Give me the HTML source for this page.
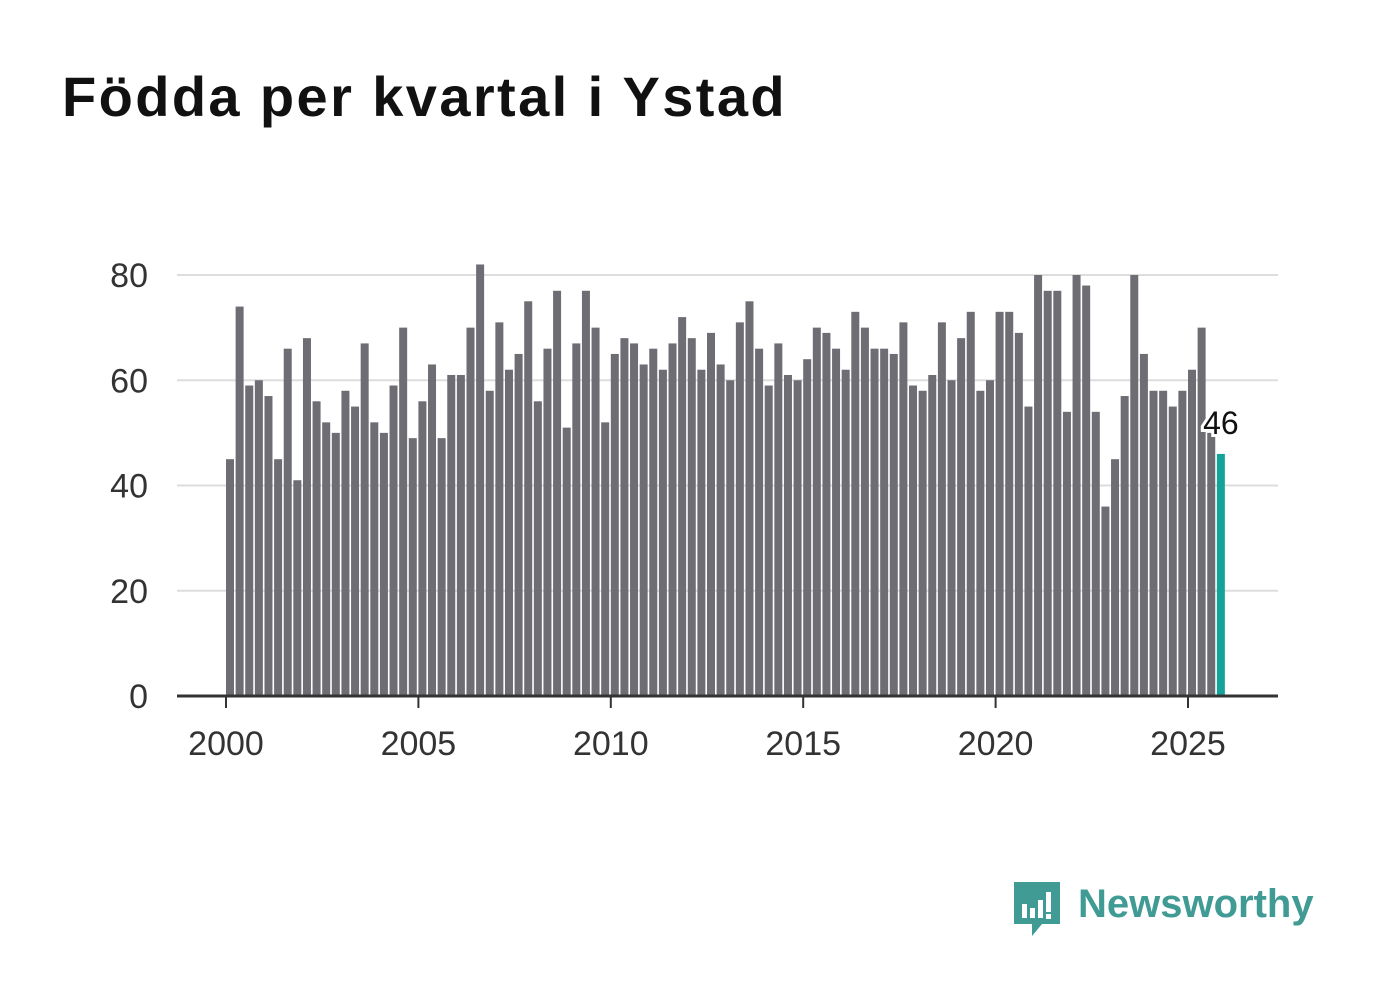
<!DOCTYPE html>
<html><head><meta charset="utf-8"><style>
body{margin:0;background:#fff;width:1382px;height:999px;overflow:hidden;font-family:"Liberation Sans",sans-serif}
h1{position:absolute;left:62px;top:64px;margin:0;font-size:56px;font-weight:bold;color:#111;letter-spacing:2.4px}
</style></head><body>
<h1>Födda per kvartal i Ystad</h1>
<svg id="chart" width="1382" height="999" style="position:absolute;left:0;top:0"></svg>
<div style="position:absolute;left:1012px;top:880px;">
<svg width="50" height="60"><path d="M2 2h46v42H30l-10 12v-12H2z" fill="#3f9b94"/><rect x="10" y="24" width="5" height="14" fill="#fff"/><rect x="18" y="28" width="5" height="10" fill="#fff"/><rect x="26" y="20" width="5" height="18" fill="#fff"/><rect x="34" y="12" width="5" height="20" fill="#fff"/><rect x="34" y="34" width="5" height="5" fill="#fff"/></svg>
<span style="position:absolute;left:66px;top:2px;font-size:40px;font-weight:bold;color:#3f9b94;white-space:nowrap">Newsworthy</span></div>
<script>
const years=[2000,2005,2010,2015,2020,2025];
const yTicks=[0,20,40,60,80];
const values=[45,74,59,60,57,45,66,41,68,56,52,50,58,55,67,52,50,59,70,49,56,63,49,61,61,70,82,58,71,62,65,75,56,66,77,51,67,77,70,52,65,68,67,63,66,62,67,72,68,62,69,63,60,71,75,66,59,67,61,60,64,70,69,66,62,73,70,66,66,65,71,59,58,61,71,60,68,73,58,60,73,73,69,55,80,77,77,54,80,78,54,36,45,57,80,65,58,58,55,58,62,70,50,46];
const startYear=2000;
const svg=document.getElementById('chart');const NS='http://www.w3.org/2000/svg';
function x(t){return 226+(t-startYear)*38.48;}
function y(v){return 696-v*5.2625;}
function mk(tag,a){const e=document.createElementNS(NS,tag);for(const k in a)e.setAttribute(k,a[k]);svg.appendChild(e);return e;}
yTicks.forEach(v=>{
 if(v>0){const g=mk('line',{x1:177,x2:1278,y1:y(v),y2:y(v),stroke:'#ddd','stroke-width':2});
 
 }
 const t=mk('text',{x:148,y:y(v)+12,'text-anchor':'end','font-size':34,fill:'#333','font-family':'Liberation Sans, sans-serif'});t.textContent=v;
 
 
});
values.forEach((v,i)=>{
 const last=i===values.length-1;
 const r=mk('rect',{x:x(startYear+i/4),y:y(v),width:8,height:y(0)-y(v),fill:last?'#14a39a':'#6e6d73'});
 
 
});
const ax=mk('line',{x1:177,x2:1278,y1:696,y2:696,stroke:'#333','stroke-width':3});


years.forEach(yr=>{
 const tk=mk('line',{x1:x(yr),x2:x(yr),y1:696,y2:708,stroke:'#333','stroke-width':2});
 
 
 const t=mk('text',{x:x(yr),y:755,'text-anchor':'middle','font-size':34,fill:'#333','font-family':'Liberation Sans, sans-serif'});t.textContent=yr;
 
 
});
const lv=values[values.length-1];
const lb=mk('text',{x:x(startYear+(values.length-1)/4)+4,y:y(lv)-20,'text-anchor':'middle','font-size':32,fill:'#111',stroke:'#fff','stroke-width':6,'paint-order':'stroke','font-family':'Liberation Sans, sans-serif'});lb.textContent=lv;


</script>
</body></html>
